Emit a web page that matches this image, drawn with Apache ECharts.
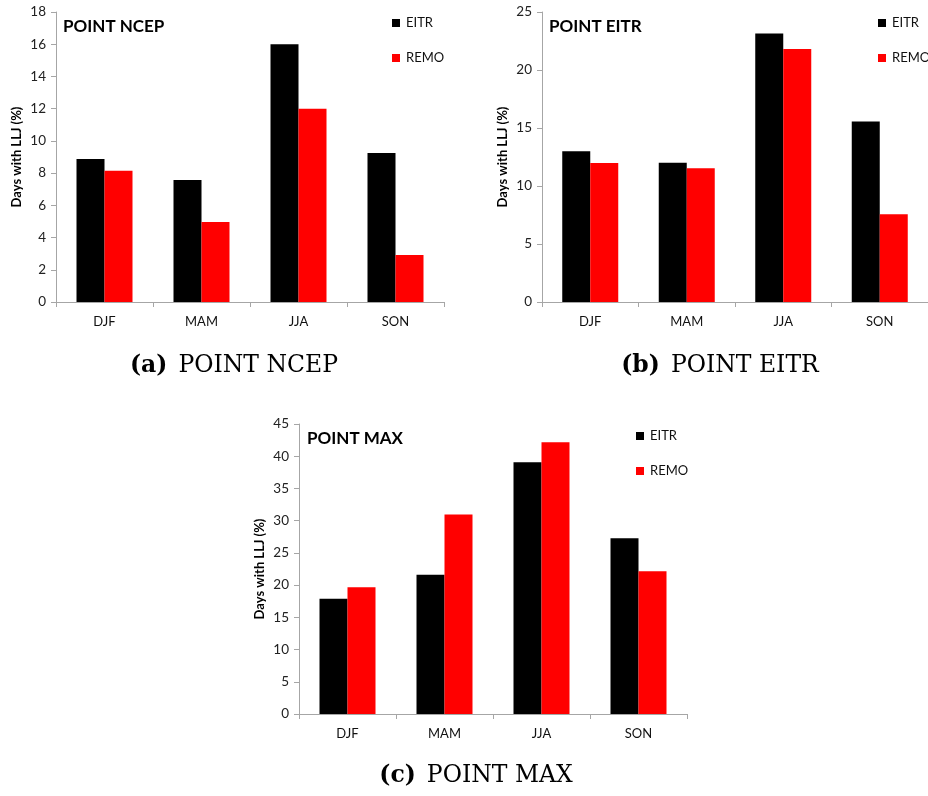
<!DOCTYPE html>
<html>
<head>
<meta charset="utf-8">
<script src="https://cdn.jsdelivr.net/npm/echarts@6/dist/echarts.min.js"></script>
<style>
  html, body { margin: 0; padding: 0; background: #fff; }
  #chart { width: 928px; height: 796px; }
</style>
</head>
<body>
<div id="chart"></div>
<script>
// Seasons on the category axis
const seasons = ['DJF', 'MAM', 'JJA', 'SON'];

// Days with low-level jet (%) per season, for each point
const ncepEitr = [8.88, 7.57, 16.0, 9.25];
const ncepRemo = [8.15, 4.97, 12.0, 2.92];

const eitrEitr = [13.0, 12.0, 23.15, 15.55];
const eitrRemo = [11.98, 11.52, 21.8, 7.56];

const maxEitr = [17.87, 21.6, 39.05, 27.27];
const maxRemo = [19.68, 30.94, 42.15, 22.16];

// Value axis ranges: [max, interval]
const ncepAxis = [18, 2];
const eitrAxis = [25, 5];
const maxAxis = [45, 5];

const panelTitles = ['POINT NCEP', 'POINT EITR', 'POINT MAX'];
const captionTags = ['(a)', '(b)', '(c)'];
const seriesNames = ['EITR', 'REMO'];

const sansFont = 'Lato, "Open Sans", sans-serif';
const serifFont = '"DejaVu Serif", "Liberation Serif", serif';
const axisGray = '#a6a6a6';

const panels = [
  { grid: { left: 56, top: 12, width: 388, height: 290 }, axis: ncepAxis, data: [ncepEitr, ncepRemo],
    title: { left: 63, top: 18 }, legend: { left: 392, top: 16 },
    caption: { x: 234, y: 366 } },
  { grid: { left: 542, top: 12, width: 387, height: 290 }, axis: eitrAxis, data: [eitrEitr, eitrRemo],
    title: { left: 549, top: 18 }, legend: { left: 878, top: 16 },
    caption: { x: 720, y: 366 } },
  { grid: { left: 299, top: 424, width: 388, height: 290 }, axis: maxAxis, data: [maxEitr, maxRemo],
    title: { left: 307, top: 430 }, legend: { left: 636, top: 429 },
    caption: { x: 476, y: 776 } }
];

const grid = [], xAxis = [], yAxis = [], series = [], title = [], legend = [], graphic = [];

panels.forEach((p, i) => {
  grid.push(Object.assign({ containLabel: false }, p.grid));

  xAxis.push({
    type: 'category',
    gridIndex: i,
    data: seasons,
    boundaryGap: true,
    axisLine: { lineStyle: { color: axisGray, width: 1 } },
    axisTick: { show: true, length: 5, lineStyle: { color: axisGray } },
    axisLabel: { color: '#111', fontFamily: sansFont, fontSize: 13, margin: 13 },
    splitLine: { show: false }
  });

  yAxis.push({
    type: 'value',
    gridIndex: i,
    min: 0,
    max: p.axis[0],
    interval: p.axis[1],
    name: 'Days with LLJ (%)',
    nameLocation: 'middle',
    nameGap: 33,
    nameRotate: 90,
    nameTextStyle: { color: '#000', fontFamily: sansFont, fontWeight: 'bold', fontSize: 13 },
    axisLine: { show: true, lineStyle: { color: axisGray, width: 1 } },
    axisTick: { show: true, length: 5, inside: false, lineStyle: { color: axisGray } },
    axisLabel: { color: '#222', fontFamily: sansFont, fontSize: 13.5, margin: 10 },
    splitLine: { show: false }
  });

  p.data.forEach((vals, k) => {
    series.push({
      name: seriesNames[k],
      type: 'bar',
      xAxisIndex: i,
      yAxisIndex: i,
      data: vals,
      barWidth: 28,
      barGap: '0%',
      itemStyle: { color: k === 0 ? '#000000' : '#ff0000' },
      emphasis: { disabled: true },
      animation: false
    });
  });

  title.push({
    text: panelTitles[i],
    left: p.title.left,
    top: p.title.top,
    padding: 0,
    textStyle: { fontFamily: sansFont, fontWeight: 'bold', fontSize: 17, color: '#000' }
  });

  legend.push({
    data: seriesNames,
    orient: 'vertical',
    left: p.legend.left,
    top: p.legend.top,
    padding: 0,
    itemWidth: 8,
    itemHeight: 8,
    itemGap: 21,
    icon: 'rect',
    selectedMode: false,
    textStyle: { fontFamily: sansFont, fontSize: 13, color: '#111', lineHeight: 14, padding: [0, 0, 0, 1] }
  });

  graphic.push({
    type: 'text',
    x: p.caption.x,
    y: p.caption.y,
    style: {
      text: '{b|' + captionTags[i] + '}{r|' + panelTitles[i] + '}',
      rich: {
        b: { fontFamily: serifFont, fontWeight: 'bold', fontSize: 23.5, fill: '#000', padding: [0, 11, 0, 0] },
        r: { fontFamily: serifFont, fontSize: 23.5, fill: '#000' }
      },
      align: 'center',
      verticalAlign: 'middle'
    }
  });
});

const chart = echarts.init(document.getElementById('chart'), null, { renderer: 'canvas' });
chart.setOption({
  backgroundColor: '#ffffff',
  animation: false,
  title, legend, grid, xAxis, yAxis, series, graphic
});
</script>
</body>
</html>
